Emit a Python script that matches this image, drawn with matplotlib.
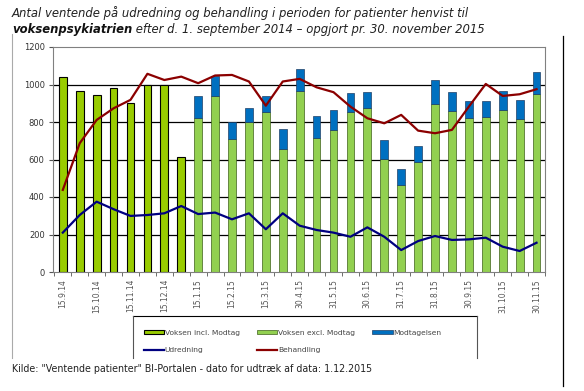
import numpy as np
import matplotlib.pyplot as plt
from matplotlib.patches import Patch
from matplotlib.lines import Line2D

# x-axis labels (every other measurement)
tick_labels = ['15.9.14', '15.10.14', '15.11.14', '15.12.14', '15.1.15', '15.2.15',
               '15.3.15', '30.4.15', '31.5.15', '30.6.15', '31.7.15', '31.8.15',
               '30.9.15', '31.10.15', '30.11.15']

# first 8 measurements: voksen incl. modtagelsen
voksen_incl = [1039, 967, 943, 983, 900, 1000, 1000, 615]

# remaining 21 measurements: split in voksen excl. modtag + modtagelsen
voksen_excl = [820, 937, 708, 802, 852, 655, 966, 717, 756, 855, 877,
               601, 464, 585, 895, 861, 820, 826, 864, 815, 948]
modtag_total = [939, 1048, 800, 875, 939, 761, 1082, 832, 864, 953, 959,
                704, 550, 672, 1024, 959, 912, 912, 966, 918, 1067]

udredning = [210, 304, 375, 335, 299, 304, 313, 352, 309, 317, 281, 313, 228, 313,
             247, 224, 210, 188, 238, 188, 117, 165, 192, 171, 174, 183, 135, 112, 156]
behandling = [438, 687, 811, 873, 918, 1057, 1024, 1042, 1007, 1048, 1051, 1016, 887, 1016,
              1030, 985, 959, 882, 820, 793, 838, 754, 740, 758, 882, 1003, 939, 948, 975]

n_old = len(voksen_incl)
n_all = n_old + len(voksen_excl)
x_old = np.arange(n_old)
x_new = np.arange(n_old, n_all)
x_all = np.arange(n_all)
modtag = np.array(modtag_total) - np.array(voksen_excl)

fig = plt.figure(figsize=(5.84, 3.91), dpi=100)
ax = fig.add_axes([53 / 584, 1 - 272 / 391, (545 - 53) / 584, (272 - 47) / 391])

w = 0.46
ax.bar(x_old, voksen_incl, width=w, color='#99CC00', edgecolor='black', linewidth=0.8, zorder=2)
ax.bar(x_new, voksen_excl, width=w, color='#92D050', edgecolor='#3d5f1a', linewidth=0.5, zorder=2)
ax.bar(x_new, modtag, width=w, bottom=voksen_excl, color='#0070C0', edgecolor='#1f3f66',
       linewidth=0.5, zorder=2)
ax.plot(x_all, udredning, color='#000080', linewidth=1.6, zorder=3)
ax.plot(x_all, behandling, color='#8B0000', linewidth=1.6, zorder=3)

ax.set_xlim(-0.58, n_all - 0.53)
ax.set_ylim(0, 1200)
ax.set_yticks(range(0, 1201, 200))
ax.set_yticklabels([str(v) for v in range(0, 1201, 200)], fontsize=6, color='#333333')
for v in range(200, 1001, 200):
    ax.axhline(v, color='black', linewidth=0.9, zorder=1)

ax.set_xticks(x_all[::2])
ax.set_xticklabels(tick_labels, rotation=90, fontsize=5.5, color='#555555')
ax.set_xticks(np.arange(-0.5, n_all, 1), minor=True)
ax.tick_params(axis='x', which='major', length=0, pad=5)
ax.tick_params(axis='x', which='minor', length=3, color='#555555')
ax.tick_params(axis='y', length=3, color='#555555', pad=3)
for s in ax.spines.values():
    s.set_color('#808080')
    s.set_linewidth(0.8)

# title, second line starts with a bold word
fs = 8.4
fig.text(12 / 584, 1 - 13 / 391, 'Antal ventende på udredning og behandling i perioden for patienter henvist til',
         fontsize=fs, style='italic', color='#222222', va='center')
t = fig.text(12 / 584, 1 - 29 / 391, 'voksenpsykiatrien', fontsize=fs, style='italic',
             weight='bold', color='#111111', va='center')
fig.canvas.draw()
bb = t.get_window_extent()
fig.text(bb.x1 / fig.bbox.width, 1 - 29 / 391,
         ' efter d. 1. september 2014 – opgjort pr. 30. november 2015',
         fontsize=fs, style='italic', color='#222222', va='center')

# legend
handles = [Patch(facecolor='#99CC00', edgecolor='black', linewidth=0.8),
           Line2D([], [], color='#000080', linewidth=1.6),
           Patch(facecolor='#92D050', edgecolor='#3d5f1a', linewidth=0.5),
           Line2D([], [], color='#8B0000', linewidth=1.6),
           Patch(facecolor='#0070C0', edgecolor='#1f3f66', linewidth=0.5)]
labels = ['Voksen incl. Modtag', 'Udredning', 'Voksen excl. Modtag', 'Behandling', 'Modtagelsen']
fig.legend(handles, labels, ncol=3, loc='upper left', bbox_to_anchor=(137 / 584, 1 - 323 / 391),
           frameon=False, fontsize=5.4, handlelength=2.7, handleheight=0.5, handletextpad=0.1,
           columnspacing=2.3, labelspacing=1.5, labelcolor='#444444')

# frame pieces around the chart and legend
fig.add_artist(Line2D([133 / 584, 477 / 584], [1 - 316 / 391] * 2, color='black', linewidth=0.8))
fig.add_artist(Line2D([133 / 584] * 2, [1 - 316 / 391, 1 - 358 / 391], color='#555555', linewidth=0.8))
fig.add_artist(Line2D([477 / 584] * 2, [1 - 316 / 391, 1 - 358 / 391], color='#555555', linewidth=0.8))
fig.add_artist(Line2D([12 / 584] * 2, [1 - 34 / 391, 1 - 358 / 391], color='#aaaaaa', linewidth=0.8))
fig.add_artist(Line2D([563 / 584] * 2, [1 - 36 / 391, 1 - 386 / 391], color='black', linewidth=0.9))

fig.text(12 / 584, 1 - 369 / 391,
         'Kilde: "Ventende patienter" BI-Portalen - dato for udtræk af data: 1.12.2015',
         fontsize=6.85, color='#222222', va='center')

fig.savefig('out.png', dpi=100)
